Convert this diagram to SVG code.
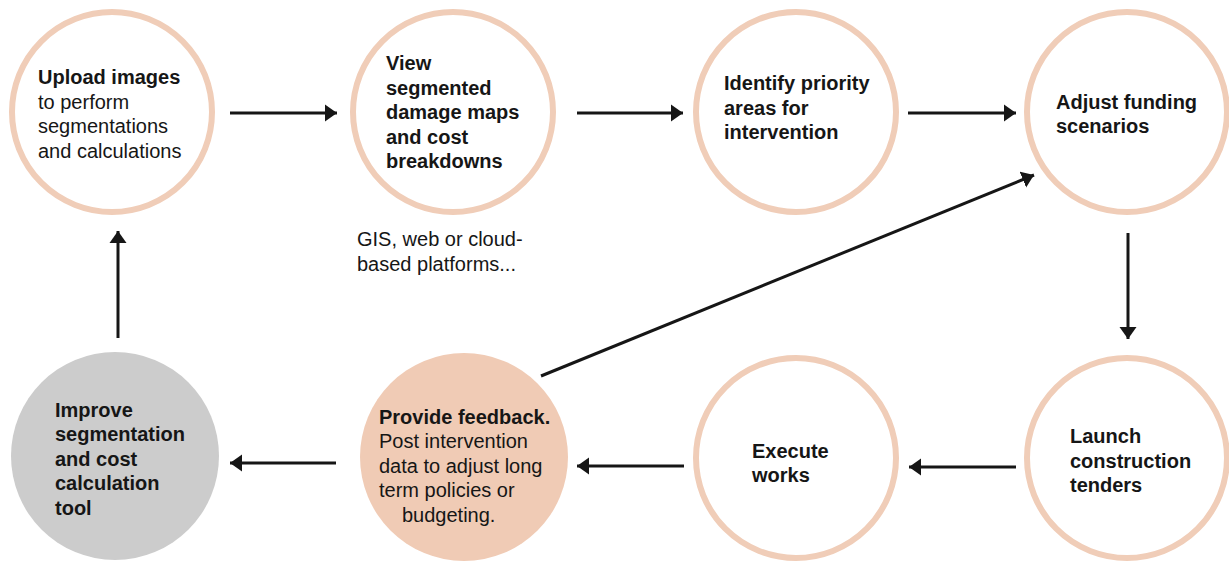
<svg xmlns="http://www.w3.org/2000/svg" width="1229" height="563" viewBox="0 0 1229 563">
<style>
.ring{fill:#fff;stroke:#F0CDB8;stroke-width:6}
.t{font-family:"Liberation Sans",Arial,sans-serif;font-size:20px;fill:#161616}
.b{font-weight:bold}
.c{stroke:#161616;stroke-width:3;fill:none}
</style>
<defs>
<marker id="ah" markerUnits="userSpaceOnUse" markerWidth="13" markerHeight="18" refX="12" refY="9" orient="auto">
<path d="M0,0.5 L12,9 L0,17.5 Z" fill="#161616"/>
</marker>
</defs>
<rect width="1229" height="563" fill="#fff"/>
<g id="connectors">
<line class="c" x1="230" y1="113" x2="337" y2="113" marker-end="url(#ah)"/>
<line class="c" x1="577" y1="113" x2="683" y2="113" marker-end="url(#ah)"/>
<line class="c" x1="908" y1="113" x2="1016" y2="113" marker-end="url(#ah)"/>
<line class="c" x1="1128" y1="233" x2="1128" y2="339" marker-end="url(#ah)"/>
<line class="c" x1="1016" y1="467" x2="909" y2="467" marker-end="url(#ah)"/>
<line class="c" x1="684" y1="466" x2="577" y2="466" marker-end="url(#ah)"/>
<line class="c" x1="336" y1="463" x2="230" y2="463" marker-end="url(#ah)"/>
<line class="c" x1="118" y1="338" x2="118" y2="231" marker-end="url(#ah)"/>
<line class="c" x1="541" y1="376" x2="1034" y2="175" marker-end="url(#ah)"/>
</g>
<g id="upload">
<circle class="ring" cx="112" cy="112" r="100"/>
<text class="t" x="38" y="84"><tspan class="b">Upload images</tspan><tspan x="38" y="108.5">to perform</tspan><tspan x="38" y="133">segmentations</tspan><tspan x="38" y="157.5">and calculations</tspan></text>
</g>
<g id="view">
<circle class="ring" cx="453" cy="112" r="100"/>
<text class="t b" x="386" y="70">View<tspan x="386" y="94.5">segmented</tspan><tspan x="386" y="119">damage maps</tspan><tspan x="386" y="143.5">and cost</tspan><tspan x="386" y="168">breakdowns</tspan></text>
</g>
<g id="platforms">
<text class="t" x="357" y="246">GIS, web or cloud-<tspan x="357" y="270.5">based platforms...</tspan></text>
</g>
<g id="identify">
<circle class="ring" cx="796" cy="112" r="100"/>
<text class="t b" x="724" y="90">Identify priority<tspan x="724" y="114.5">areas for</tspan><tspan x="724" y="139">intervention</tspan></text>
</g>
<g id="adjust">
<circle class="ring" cx="1127" cy="112" r="100"/>
<text class="t b" x="1056" y="108.5">Adjust funding<tspan x="1056" y="133">scenarios</tspan></text>
</g>
<g id="launch">
<circle class="ring" cx="1127" cy="458" r="100"/>
<text class="t b" x="1070" y="443">Launch<tspan x="1070" y="467.5">construction</tspan><tspan x="1070" y="492">tenders</tspan></text>
</g>
<g id="execute">
<circle class="ring" cx="796" cy="458" r="100"/>
<text class="t b" x="752" y="457.5">Execute<tspan x="752" y="482">works</tspan></text>
</g>
<g id="feedback">
<circle cx="464" cy="457" r="104" fill="#F0CBB5"/>
<text class="t" x="379" y="423.5"><tspan class="b">Provide feedback.</tspan><tspan x="379" y="448">Post intervention</tspan><tspan x="379" y="472.5">data to adjust long</tspan><tspan x="379" y="497">term policies or</tspan><tspan x="402" y="521.5">budgeting.</tspan></text>
</g>
<g id="improve">
<circle cx="115" cy="456" r="104" fill="#CCCCCC"/>
<text class="t b" x="55" y="416.5">Improve<tspan x="55" y="441">segmentation</tspan><tspan x="55" y="465.5">and cost</tspan><tspan x="55" y="490">calculation</tspan><tspan x="55" y="514.5">tool</tspan></text>
</g>
</svg>
